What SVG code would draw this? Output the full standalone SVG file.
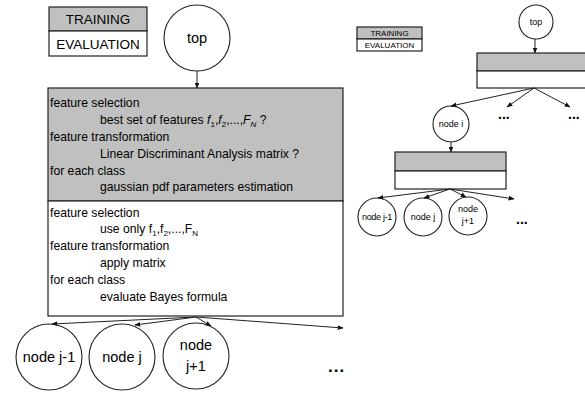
<svg xmlns="http://www.w3.org/2000/svg" width="585" height="400" viewBox="0 0 585 400">
  <style>
    text { font-family: "Liberation Sans", Arial, sans-serif; fill: #000; }
    .box { stroke: #222; stroke-width: 1.2; }
    .train { fill: #c0c0c0; }
    .eval { fill: #fff; }
    .node { fill: #fff; stroke: #222; stroke-width: 1.1; }
    .edge { fill: none; stroke: #222; stroke-width: 1; marker-end: url(#arrow); }
    .body { font-size: 12.2px; }
    .sub { font-size: 8px; }
    .big { font-size: 13.5px; }
    .mid { font-size: 14.5px; }
    .small { font-size: 8px; }
    .tiny { font-size: 9px; }
    .dots { font-weight: bold; }
    .mc { text-anchor: middle; }
  </style>
  <defs>
    <marker id="arrow" viewBox="0 0 10 10" refX="9" refY="5" markerWidth="6" markerHeight="6" orient="auto" markerUnits="userSpaceOnUse">
      <path d="M0,1 L10,5 L0,9 Z" fill="#111"/>
    </marker>
  </defs>

  <!-- legend (large tree) -->
  <g id="legend">
    <rect class="box train" x="49" y="7" width="98" height="24"/>
    <rect class="box eval" x="49" y="31" width="98" height="25"/>
    <text class="big mc" x="98" y="24">TRAINING</text>
    <text class="big mc" x="98" y="49">EVALUATION</text>
  </g>

  <g id="top">
    <circle class="node" cx="197" cy="38" r="33"/>
    <text class="mid mc" x="197" y="43">top</text>
  </g>

  <!-- classifier node: training part (grey) and evaluation part (white) -->
  <g id="classifier">
    <rect class="box train" x="48" y="88" width="295" height="113"/>
    <rect class="box eval" x="48" y="201" width="295" height="115"/>
    <g class="body">
      <text x="50" y="107">feature selection</text>
      <text x="100" y="124">best set of features <tspan font-style="italic">f</tspan><tspan class="sub" dy="3">1</tspan><tspan dy="-3">,</tspan><tspan font-style="italic">f</tspan><tspan class="sub" dy="3">2</tspan><tspan dy="-3">,...,</tspan><tspan font-style="italic">F</tspan><tspan class="sub" font-style="italic" dy="3">N</tspan><tspan dy="-3"> ?</tspan></text>
      <text x="50" y="141">feature transformation</text>
      <text x="100" y="158">Linear Discriminant Analysis matrix ?</text>
      <text x="50" y="174.5">for each class</text>
      <text x="100" y="191">gaussian pdf parameters estimation</text>

      <text x="50" y="216.5">feature selection</text>
      <text x="100" y="233">use only f<tspan class="sub" dy="3">1</tspan><tspan dy="-3">,f</tspan><tspan class="sub" dy="3">2</tspan><tspan dy="-3">,...,F</tspan><tspan class="sub" dy="3">N</tspan></text>
      <text x="50" y="250">feature transformation</text>
      <text x="100" y="266.5">apply matrix</text>
      <text x="50" y="283.5">for each class</text>
      <text x="100" y="301">evaluate Bayes formula</text>
    </g>
  </g>

  <g id="node-jm1">
    <circle class="node" cx="49" cy="357" r="33"/>
    <text class="mid mc" x="49" y="362">node j-1</text>
  </g>
  <g id="node-j">
    <circle class="node" cx="122" cy="357" r="33"/>
    <text class="mid mc" x="122" y="362">node j</text>
  </g>
  <g id="node-jp1">
    <circle class="node" cx="196" cy="356" r="33"/>
    <text class="mid mc" x="196" y="350">node</text>
    <text class="mid mc" x="196" y="371">j+1</text>
  </g>
  <g id="more">
    <text class="dots" x="328" y="372" font-size="17px" letter-spacing="1">...</text>
  </g>

  <!-- small overview tree -->
  <g id="legend-small">
    <rect class="box train" x="357" y="27" width="65" height="12" stroke-width="0.8"/>
    <rect class="box eval" x="357" y="39" width="65" height="12" stroke-width="0.8"/>
    <text class="small mc" x="389.5" y="36">TRAINING</text>
    <text class="small mc" x="389.5" y="48">EVALUATION</text>
  </g>
  <g id="top-small">
    <circle class="node" cx="536" cy="22" r="17" stroke-width="0.9"/>
    <text class="tiny mc" x="536" y="25">top</text>
  </g>
  <g id="classifier-small-1">
    <rect class="box train" x="477" y="53" width="115" height="18" stroke-width="1"/>
    <rect class="box eval" x="477" y="71" width="115" height="17" stroke-width="1"/>
  </g>
  <g id="node-i">
    <circle class="node" cx="451" cy="124" r="18" stroke-width="0.9"/>
    <text class="tiny mc" x="451" y="127">node i</text>
  </g>
  <g id="more-small-1">
    <text class="dots" x="498" y="119" font-size="14px">...</text>
    <text class="dots" x="568" y="119" font-size="14px">...</text>
  </g>
  <g id="classifier-small-2">
    <rect class="box train" x="395" y="152" width="111" height="19" stroke-width="1"/>
    <rect class="box eval" x="395" y="171" width="111" height="18" stroke-width="1"/>
  </g>
  <g id="node-small-jm1">
    <circle class="node" cx="377" cy="217" r="19" stroke-width="0.9"/>
    <text class="tiny mc" x="377" y="220" letter-spacing="-0.3">node j-1</text>
  </g>
  <g id="node-small-j">
    <circle class="node" cx="423" cy="217" r="19" stroke-width="0.9"/>
    <text class="tiny mc" x="423" y="220">node j</text>
  </g>
  <g id="node-small-jp1">
    <circle class="node" cx="468" cy="216" r="19" stroke-width="0.9"/>
    <text class="tiny mc" x="468" y="212">node</text>
    <text class="tiny mc" x="468" y="224">j+1</text>
  </g>
  <g id="more-small-2">
    <text class="dots" x="516" y="224" font-size="14px">...</text>
  </g>

  <g id="connectors">
    <line class="edge" x1="197" y1="71" x2="197" y2="88"/>
    <line class="edge" x1="196" y1="317" x2="52" y2="324"/>
    <line class="edge" x1="196" y1="317" x2="135" y2="325"/>
    <line class="edge" x1="196" y1="317" x2="211" y2="326"/>
    <line class="edge" x1="196" y1="317" x2="343" y2="328"/>

    <g style="stroke-width:0.8">
      <line class="edge" x1="535" y1="39" x2="535" y2="53"/>
      <line class="edge" x1="534" y1="88" x2="451" y2="106"/>
      <line class="edge" x1="534" y1="88" x2="507" y2="107"/>
      <line class="edge" x1="534" y1="88" x2="570" y2="107"/>
      <line class="edge" x1="451" y1="142" x2="451" y2="152"/>
      <line class="edge" x1="450" y1="189" x2="378" y2="198"/>
      <line class="edge" x1="450" y1="189" x2="424" y2="198"/>
      <line class="edge" x1="450" y1="189" x2="466" y2="197"/>
      <line class="edge" x1="450" y1="189" x2="514" y2="199"/>
    </g>
  </g>
</svg>
